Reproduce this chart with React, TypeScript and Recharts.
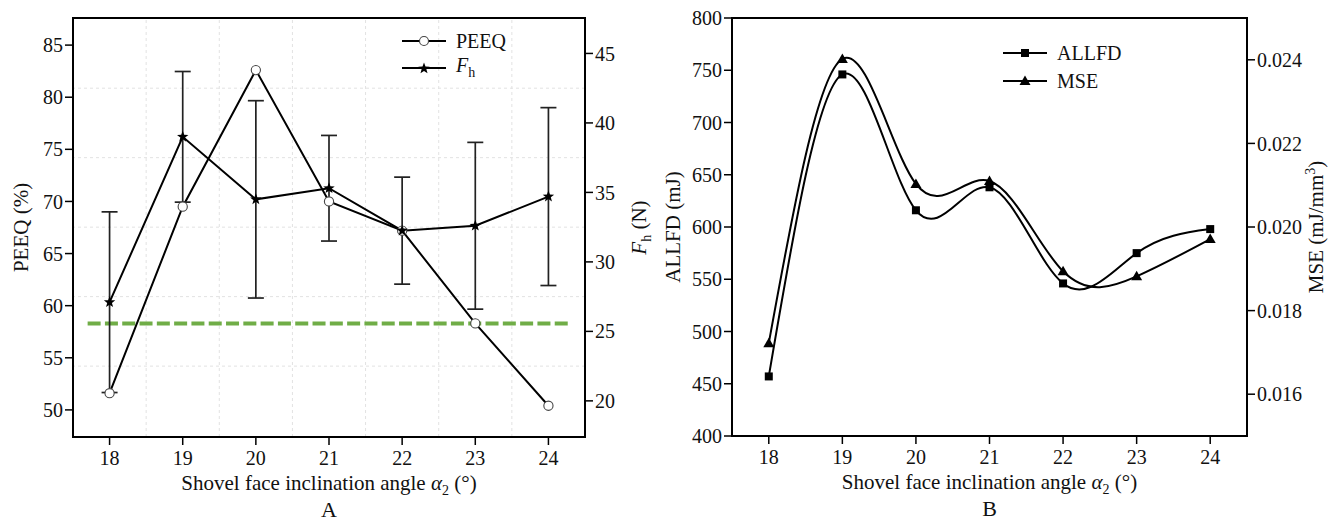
import React from 'react';
import {
  LineChart,
  Line,
  XAxis,
  YAxis,
  ErrorBar,
  ReferenceLine,
  ReferenceArea,
  Legend,
  Label,
} from 'recharts';

// ---------- data ----------
const angles = [18, 19, 20, 21, 22, 23, 24];
const peeqValues = [51.6, 69.5, 82.6, 70.0, 67.2, 58.3, 50.4];
const fhValues = [27.1, 39.0, 34.5, 35.3, 32.25, 32.6, 34.7];
const fhErrors = [6.5, 4.7, 7.1, 3.8, 3.85, 6.0, 6.4];
const allfdValues = [457, 746, 616, 638, 546, 575, 598];
const mseValues = [0.01722, 0.02402, 0.02103, 0.0211, 0.01894, 0.01882, 0.01971];

const peeqThreshold = 58.3;
const thresholdSpan = [17.7, 24.3];

const angleTicks = [18, 19, 20, 21, 22, 23, 24];
const peeqTicks = [50, 55, 60, 65, 70, 75, 80, 85];
const fhTicks = [20, 25, 30, 35, 40, 45];
const allfdTicks = [400, 450, 500, 550, 600, 650, 700, 750, 800];
const mseTicks = [0.016, 0.018, 0.02, 0.022, 0.024];
const gridAngles = [18.5, 19.5, 20.5, 21.5, 22.5, 23.5];
const gridFh = [22.5, 27.5, 32.5, 37.5, 42.5];

const angleDomain = [17.5, 24.5];
const peeqDomain = [47.4, 87.6];
const fhDomain = [17.4, 47.55];
const allfdDomain = [400, 800];
const mseDomain = [0.015, 0.025];

const dataA = angles.map((a, i) => ({
  angle: a,
  peeq: peeqValues[i],
  fh: fhValues[i],
  fhErr: fhErrors[i],
}));
const dataB = angles.map((a, i) => ({
  angle: a,
  allfd: allfdValues[i],
  mse: mseValues[i],
}));

// ---------- styling ----------
const FONT = '"Liberation Serif", "Times New Roman", serif';
const TICK_FS = 20;
const TITLE_FS = 21;
const tickStyle = { fill: '#111', fontSize: TICK_FS, fontFamily: FONT };
const axisLine = { stroke: '#000', strokeWidth: 2 };
const tickLine = { stroke: '#000', strokeWidth: 1.5 };

// ---------- markers ----------
const starPath = (cx: number, cy: number, R: number, r: number) => {
  let d = '';
  for (let k = 0; k < 10; k++) {
    const ang = -Math.PI / 2 + (k * Math.PI) / 5;
    const rad = k % 2 === 0 ? R : r;
    const x = cx + rad * Math.cos(ang);
    const y = cy + rad * Math.sin(ang);
    d += (k === 0 ? 'M' : 'L') + x.toFixed(2) + ',' + y.toFixed(2);
  }
  return d + 'Z';
};

const CircleDot = (p: any) => (
  <circle key={`c-${p.index}`} cx={p.cx} cy={p.cy} r={4.6} fill="#fff" stroke="#444" strokeWidth={1.1} />
);
const StarDot = (p: any) => (
  <path key={`s-${p.index}`} d={starPath(p.cx, p.cy, 6, 2.5)} fill="#000" stroke="none" />
);
const SquareDot = (p: any) => (
  <rect key={`q-${p.index}`} x={p.cx - 4} y={p.cy - 4} width={8} height={8} fill="#000" />
);
const TriDot = (p: any) => (
  <path
    key={`t-${p.index}`}
    d={`M${p.cx},${p.cy - 5.5}L${p.cx + 5.5},${p.cy + 4}L${p.cx - 5.5},${p.cy + 4}Z`}
    fill="#000"
  />
);

const LegendIcon = ({ kind }: { kind: string }) => (
  <svg width={44} height={16} style={{ display: 'block' }}>
    <line x1={0} y1={8} x2={44} y2={8} stroke="#000" strokeWidth={2} />
    {kind === 'circle' && <circle cx={22} cy={8} r={4.5} fill="#fff" stroke="#444" strokeWidth={1.1} />}
    {kind === 'star' && <path d={starPath(22, 8.5, 6, 2.5)} fill="#000" />}
    {kind === 'square' && <rect x={18} y={4} width={8} height={8} fill="#000" />}
    {kind === 'tri' && <path d="M22,2.5L27.5,12L16.5,12Z" fill="#000" />}
  </svg>
);

const makeLegend = (items: { kind: string; label: React.ReactNode }[], rowH: number) => () => (
  <div style={{ fontFamily: FONT, fontSize: 20, color: '#111' }}>
    {items.map((it, i) => (
      <div key={i} style={{ display: 'flex', alignItems: 'center', height: rowH }}>
        <LegendIcon kind={it.kind} />
        <span style={{ marginLeft: 10, whiteSpace: 'nowrap' }}>{it.label}</span>
      </div>
    ))}
  </div>
);

const legendA = makeLegend(
  [
    { kind: 'circle', label: 'PEEQ' },
    {
      kind: 'star',
      label: (
        <>
          <i>F</i>
          <sub style={{ fontSize: 14 }}>h</sub>
        </>
      ),
    },
  ],
  26.5
);
const legendB = makeLegend(
  [
    { kind: 'square', label: 'ALLFD' },
    { kind: 'tri', label: 'MSE' },
  ],
  27.7
);

// ---------- titles ----------
const rotTitle = (dx: number, children: React.ReactNode) => (props: any) => {
  const vb = props.viewBox || {};
  const cx = vb.x + dx;
  const cy = vb.y + vb.height / 2;
  return (
    <text
      x={cx}
      y={cy}
      transform={`rotate(-90 ${cx} ${cy})`}
      textAnchor="middle"
      fontSize={TITLE_FS}
      fontFamily={FONT}
      fill="#111"
    >
      {children}
    </text>
  );
};

const xTitle = (panel: string) => (props: any) => {
  const vb = props.viewBox || {};
  const cx = vb.x + vb.width / 2;
  return (
    <g>
      <text x={cx} y={vb.y + 53} textAnchor="middle" fontSize={TITLE_FS} fontFamily={FONT} fill="#111">
        Shovel face inclination angle <tspan fontStyle="italic">α</tspan>
        <tspan fontSize={14} dy={5}>2</tspan>
        <tspan dy={-5}> (°)</tspan>
      </text>
      <text x={cx} y={vb.y + 80} textAnchor="middle" fontSize={22} fontFamily={FONT} fill="#111">
        {panel}
      </text>
    </g>
  );
};

// ---------- charts ----------
const ChartA = () => (
  <LineChart
    width={655}
    height={523}
    data={dataA}
    margin={{ top: 18, right: 0, bottom: 0, left: 0 }}
    style={{ fontFamily: FONT }}
  >
    <XAxis
      dataKey="angle"
      type="number"
      domain={angleDomain}
      ticks={angleTicks}
      allowDataOverflow
      height={86}
      tickSize={8}
      tickMargin={6}
      tick={tickStyle}
      axisLine={axisLine}
      tickLine={tickLine}
    >
      <Label content={xTitle('A')} />
    </XAxis>
    <YAxis
      yAxisId="peeq"
      domain={peeqDomain}
      ticks={peeqTicks}
      allowDataOverflow
      width={73}
      tickSize={8}
      tickMargin={2}
      tick={tickStyle}
      axisLine={axisLine}
      tickLine={tickLine}
    >
      <Label content={rotTitle(28, 'PEEQ (%)')} />
    </YAxis>
    <YAxis
      yAxisId="fh"
      orientation="right"
      domain={fhDomain}
      ticks={fhTicks}
      allowDataOverflow
      width={70}
      tickSize={8}
      tickMargin={2}
      tick={tickStyle}
      axisLine={axisLine}
      tickLine={tickLine}
    >
      <Label
        content={rotTitle(
          61,
          <>
            <tspan fontStyle="italic">F</tspan>
            <tspan fontSize={14} dy={5}>h</tspan>
            <tspan dy={-5}> (N)</tspan>
          </>
        )}
      />
    </YAxis>

    {gridAngles.map((g) => (
      <ReferenceLine key={`gx-${g}`} x={g} yAxisId="fh" stroke="#e2e2e2" strokeDasharray="3 3" strokeWidth={1} />
    ))}
    {gridFh.map((g) => (
      <ReferenceLine key={`gy-${g}`} y={g} yAxisId="fh" stroke="#e2e2e2" strokeDasharray="3 3" strokeWidth={1} />
    ))}

    <ReferenceArea
      x1={angleDomain[0]}
      x2={angleDomain[1]}
      y1={fhDomain[0]}
      y2={fhDomain[1]}
      yAxisId="fh"
      fill="none"
      fillOpacity={0}
      stroke="#000"
      strokeWidth={2}
    />

    <ReferenceLine
      yAxisId="peeq"
      segment={[
        { x: thresholdSpan[0], y: peeqThreshold },
        { x: thresholdSpan[1], y: peeqThreshold },
      ]}
      stroke="#70ad47"
      strokeWidth={4}
      strokeDasharray="13 4.3"
    />

    <Line
      yAxisId="peeq"
      dataKey="peeq"
      type="linear"
      stroke="#000"
      strokeWidth={2}
      dot={CircleDot}
      activeDot={false}
      isAnimationActive={false}
    />
    <Line
      yAxisId="fh"
      dataKey="fh"
      type="linear"
      stroke="#000"
      strokeWidth={2}
      dot={StarDot}
      activeDot={false}
      isAnimationActive={false}
    >
      <ErrorBar dataKey="fhErr" width={8} stroke="#222" strokeWidth={1.7} direction="y" />
    </Line>

    <Legend
      layout="vertical"
      align="center"
      verticalAlign="middle"
      content={legendA}
      wrapperStyle={{ left: 402, top: 28, width: 140 }}
    />
  </LineChart>
);

const ChartB = () => (
  <LineChart
    width={679}
    height={523}
    data={dataB}
    margin={{ top: 18, right: 0, bottom: 0, left: 0 }}
    style={{ fontFamily: FONT }}
  >
    <XAxis
      dataKey="angle"
      type="number"
      domain={angleDomain}
      ticks={angleTicks}
      allowDataOverflow
      height={87}
      tickSize={8}
      tickMargin={6}
      tick={tickStyle}
      axisLine={axisLine}
      tickLine={tickLine}
    >
      <Label content={xTitle('B')} />
    </XAxis>
    <YAxis
      yAxisId="allfd"
      domain={allfdDomain}
      ticks={allfdTicks}
      allowDataOverflow
      width={77}
      tickSize={8}
      tickMargin={2}
      tick={tickStyle}
      axisLine={axisLine}
      tickLine={tickLine}
    >
      <Label content={rotTitle(25, 'ALLFD (mJ)')} />
    </YAxis>
    <YAxis
      yAxisId="mse"
      orientation="right"
      domain={mseDomain}
      ticks={mseTicks}
      allowDataOverflow
      width={87}
      tickSize={8}
      tickMargin={2}
      tick={tickStyle}
      tickFormatter={(v: number) => v.toFixed(3)}
      axisLine={axisLine}
      tickLine={tickLine}
    >
      <Label
        content={rotTitle(
          76,
          <>
            MSE (mJ/mm
            <tspan fontSize={14} dy={-8}>3</tspan>
            <tspan dy={8}>)</tspan>
          </>
        )}
      />
    </YAxis>

    <ReferenceArea
      x1={angleDomain[0]}
      x2={angleDomain[1]}
      y1={allfdDomain[0]}
      y2={allfdDomain[1]}
      yAxisId="allfd"
      fill="none"
      fillOpacity={0}
      stroke="#000"
      strokeWidth={2}
    />

    <Line
      yAxisId="allfd"
      dataKey="allfd"
      type="natural"
      stroke="#000"
      strokeWidth={2}
      dot={SquareDot}
      activeDot={false}
      isAnimationActive={false}
    />
    <Line
      yAxisId="mse"
      dataKey="mse"
      type="natural"
      stroke="#000"
      strokeWidth={2}
      dot={TriDot}
      activeDot={false}
      isAnimationActive={false}
    />

    <Legend
      layout="vertical"
      align="center"
      verticalAlign="middle"
      content={legendB}
      wrapperStyle={{ left: 348, top: 39.5, width: 150 }}
    />
  </LineChart>
);

export default function App() {
  return (
    <div
      style={{
        position: 'absolute',
        left: 0,
        top: 0,
        width: 1334,
        height: 523,
        background: '#fff',
        overflow: 'hidden',
      }}
    >
      <div style={{ position: 'absolute', left: 0, top: 0 }}>
        <ChartA />
      </div>
      <div style={{ position: 'absolute', left: 655, top: 0 }}>
        <ChartB />
      </div>
    </div>
  );
}
